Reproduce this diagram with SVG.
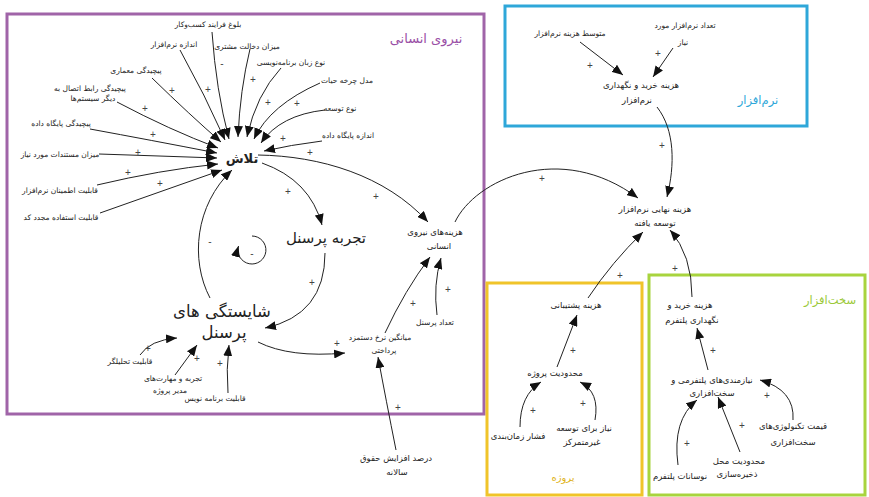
<svg xmlns="http://www.w3.org/2000/svg" width="869" height="497" viewBox="0 0 869 497">
<style>
text{font-family:"DejaVu Sans","Noto Sans",sans-serif;fill:#222;text-anchor:middle;dominant-baseline:central}
.s{font-size:7.5px}
.m{font-size:8.5px}
.sg{font-family:"Liberation Sans",sans-serif;font-size:10px;fill:#444}
.big{font-size:15px}
.frame{fill:none;stroke-width:3}
.c path{fill:none;stroke:#222;stroke-width:1;marker-end:url(#ah)}
</style>
<defs>
<marker id="ah" markerUnits="userSpaceOnUse" markerWidth="12" markerHeight="9" refX="11" refY="4.5" orient="auto">
<path d="M0,0 L11,4.5 L0,9 Z" fill="#111"/>
</marker>
</defs>
<rect width="869" height="497" fill="#fff"/>

<g id="frames">
<rect id="frame-human" class="frame" x="7" y="14" width="477" height="400" stroke="#a064a8"/>
<rect id="frame-software" class="frame" x="505" y="6" width="302" height="120" stroke="#2ea7d9"/>
<rect id="frame-project" class="frame" x="487" y="283" width="155" height="212" stroke="#f0c42a"/>
<rect id="frame-hardware" class="frame" x="649" y="275" width="216" height="220" stroke="#a8d43e"/>
<text x="426" y="38" style="font-size:13px;fill:#9a4fa6">نیروی انسانی</text>
<text x="758" y="100" style="font-size:11.5px;fill:#2ea7d9">نرم‌افزار</text>
<text x="563" y="477" style="font-size:10px;fill:#e0b320">پروژه</text>
<text x="830" y="300" style="font-size:11.5px;fill:#9cc93a">سخت‌افزار</text>
</g>

<g class="c" id="connectors">
<path d="M212,32 Q216,90 229,139"/>
<path d="M180,50 Q205,95 225,140"/>
<path d="M250,49 Q240,90 238,137"/>
<path d="M281,68 Q256,95 247,137"/>
<path d="M320,83 Q270,105 254,139"/>
<path d="M325,110 Q280,115 261,143"/>
<path d="M322,141 Q290,145 264,151"/>
<path d="M152,78 Q190,115 221,142"/>
<path d="M117,102 Q170,130 218,148"/>
<path d="M90,129 Q150,140 217,153"/>
<path d="M99,154 Q160,156 217,158"/>
<path d="M97,185 Q160,170 218,164"/>
<path d="M100,213 Q165,190 222,170"/>
<path d="M210,298 C190,260 195,205 232,170"/>
<path d="M262,163 Q310,180 322,225"/>
<path d="M325,253 Q325,315 265,328"/>
<path d="M258,342 Q290,358 345,353"/>
<path d="M385,333 Q405,290 430,257"/>
<path d="M437,315 Q433,285 441,258"/>
<path d="M396,450 Q386,400 378,357"/>
<path d="M258,155 C320,156 385,175 428,222"/>
<path d="M455,222 C475,180 560,140 638,198"/>
<path d="M657,107 C675,130 675,165 667,197"/>
<path d="M580,42 L623,75"/>
<path d="M673,48 L653,77"/>
<path d="M588,298 Q612,262 643,232"/>
<path d="M557,367 L577,315"/>
<path d="M520,427 Q520,395 541,382"/>
<path d="M595,420 Q600,392 580,382"/>
<path d="M692,297 Q692,255 670,230"/>
<path d="M708,370 L697,328"/>
<path d="M793,420 Q795,390 760,380"/>
<path d="M740,452 L718,397"/>
<path d="M678,465 Q672,420 697,400"/>
<path d="M140,355 Q150,340 177,338"/>
<path d="M175,375 L197,345"/>
<path d="M228,393 Q226,370 229,345"/>
<path d="M252,236 A14,14 0 1 1 238.5,246"/>
</g>

<g id="signs">
<text class="sg" x="172" y="90">+</text>
<text class="sg" x="208" y="89">+</text>
<text class="sg" x="145" y="108">+</text>
<text class="sg" x="253" y="79">+</text>
<text class="sg" x="268" y="102">+</text>
<text class="sg" x="297" y="103">+</text>
<text class="sg" x="283" y="138">+</text>
<text class="sg" x="153" y="134">+</text>
<text class="sg" x="138" y="152">+</text>
<text class="sg" x="128" y="172">+</text>
<text class="sg" x="160" y="183">+</text>
<text class="sg" x="222" y="63">-</text>
<text class="sg" x="310" y="152">+</text>
<text class="sg" x="376" y="196">+</text>
<text class="sg" x="288" y="191">+</text>
<text class="sg" x="210" y="241">-</text>
<text class="sg" x="252" y="253">-</text>
<text class="sg" x="312" y="282">+</text>
<text class="sg" x="337" y="343">+</text>
<text class="sg" x="413" y="303">+</text>
<text class="sg" x="448" y="289">+</text>
<text class="sg" x="398" y="407">+</text>
<text class="sg" x="542" y="178">+</text>
<text class="sg" x="662" y="145">+</text>
<text class="sg" x="590" y="65">+</text>
<text class="sg" x="658" y="53">+</text>
<text class="sg" x="620" y="275">+</text>
<text class="sg" x="573" y="350">+</text>
<text class="sg" x="533" y="410">+</text>
<text class="sg" x="583" y="403">+</text>
<text class="sg" x="675" y="268">+</text>
<text class="sg" x="713" y="350">+</text>
<text class="sg" x="767" y="395">+</text>
<text class="sg" x="742" y="425">+</text>
<text class="sg" x="687" y="443">+</text>
<text class="sg" x="148" y="348">+</text>
<text class="sg" x="197" y="358">+</text>
<text class="sg" x="220" y="363">+</text>
</g>

<g id="n-effort"><text x="242" y="158" style="font-size:13px;font-weight:bold">تلاش</text></g>
<g id="n-experience"><text class="big" x="326" y="238">تجربه پرسنل</text></g>
<g id="n-competence"><text x="222" y="311" style="font-size:16.5px">شایستگی های</text><text x="224" y="332" style="font-size:16.5px">پرسنل</text></g>
<g id="n-hr-cost"><text class="m" x="435" y="232">هزینه‌های نیروی</text><text class="m" x="439" y="246">انسانی</text></g>
<g id="n-wage"><text class="s" x="380" y="337">میانگین نرخ دستمزد</text><text class="s" x="384" y="350">پرداختی</text></g>
<g id="n-staff"><text class="s" x="435" y="322">تعداد پرسنل</text></g>
<g id="n-raise"><text class="m" x="396" y="458">درصد افزایش حقوق</text><text class="m" x="397" y="472">سالانه</text></g>
<g id="n-final"><text class="m" x="655" y="209">هزینه نهایی نرم‌افزار</text><text class="m" x="655" y="223">توسعه یافته</text></g>
<g id="n-avg-sw"><text class="s" x="570" y="33">متوسط هزینه نرم‌افزار</text></g>
<g id="n-num-sw"><text class="s" x="685" y="25">تعداد نرم‌افزار مورد</text><text class="s" x="683" y="42">نیاز</text></g>
<g id="n-sw-cost"><text class="m" x="641" y="85">هزینه خرید و نگهداری</text><text class="m" x="637" y="100">نرم‌افزار</text></g>
<g id="n-support"><text class="m" x="576" y="305">هزینه پشتیبانی</text></g>
<g id="n-proj-limit"><text class="m" x="555" y="373">محدودیت پروژه</text></g>
<g id="n-schedule"><text class="m" x="518" y="436">فشار زمان‌بندی</text></g>
<g id="n-decentral"><text class="m" x="584" y="428">نیاز برای توسعه</text><text class="m" x="582" y="442">غیرمتمرکز</text></g>
<g id="n-platform-cost"><text class="m" x="690" y="305">هزینه خرید و</text><text class="m" x="692" y="320">نگهداری پلتفرم</text></g>
<g id="n-platform-req"><text class="m" x="712" y="380">نیازمندی‌های پلتفرمی و</text><text class="m" x="712" y="393">سخت‌افزاری</text></g>
<g id="n-hw-price"><text class="m" x="793" y="426">قیمت تکنولوژی‌های</text><text class="m" x="793" y="442">سخت‌افزاری</text></g>
<g id="n-storage"><text class="m" x="739" y="461">محدودیت محل</text><text class="m" x="737" y="474">ذخیره‌سازی</text></g>
<g id="n-volatility"><text class="m" x="680" y="476">نوسانات پلتفرم</text></g>
<g id="n-maturity"><text class="s" x="208" y="24">بلوغ فرایند کسب‌وکار</text></g>
<g id="n-sw-size"><text class="s" x="174" y="44">اندازه نرم‌افزار</text></g>
<g id="n-customer"><text class="s" x="247" y="46">میزان دخالت مشتری</text></g>
<g id="n-language"><text class="s" x="291" y="62">نوع زبان برنامه‌نویسی</text></g>
<g id="n-lifecycle"><text class="s" x="347" y="80">مدل چرخه حیات</text></g>
<g id="n-dev-type"><text class="s" x="340" y="108">نوع توسعه</text></g>
<g id="n-db-size"><text class="s" x="348" y="135">اندازه پایگاه داده</text></g>
<g id="n-arch"><text class="s" x="136" y="70">پیچیدگی معماری</text></g>
<g id="n-interface"><text class="s" x="90" y="88">پیچیدگی رابط اتصال به</text><text class="s" x="93" y="98">دیگر سیستم‌ها</text></g>
<g id="n-db-complex"><text class="s" x="61" y="123">پیچیدگی پایگاه داده</text></g>
<g id="n-docs"><text class="s" x="60" y="154">میزان مستندات مورد نیاز</text></g>
<g id="n-reliability"><text class="s" x="60" y="190">قابلیت اطمینان نرم‌افزار</text></g>
<g id="n-reuse"><text class="s" x="61" y="217">قابلیت استفاده مجدد کد</text></g>
<g id="n-analyst"><text class="s" x="130" y="361">قابلیت تحلیلگر</text></g>
<g id="n-pm"><text class="s" x="173" y="378">تجربه و مهارت‌های</text><text class="s" x="170" y="390">مدیر پروژه</text></g>
<g id="n-programmer"><text class="s" x="215" y="398">قابلیت برنامه نویس</text></g>
</svg>
